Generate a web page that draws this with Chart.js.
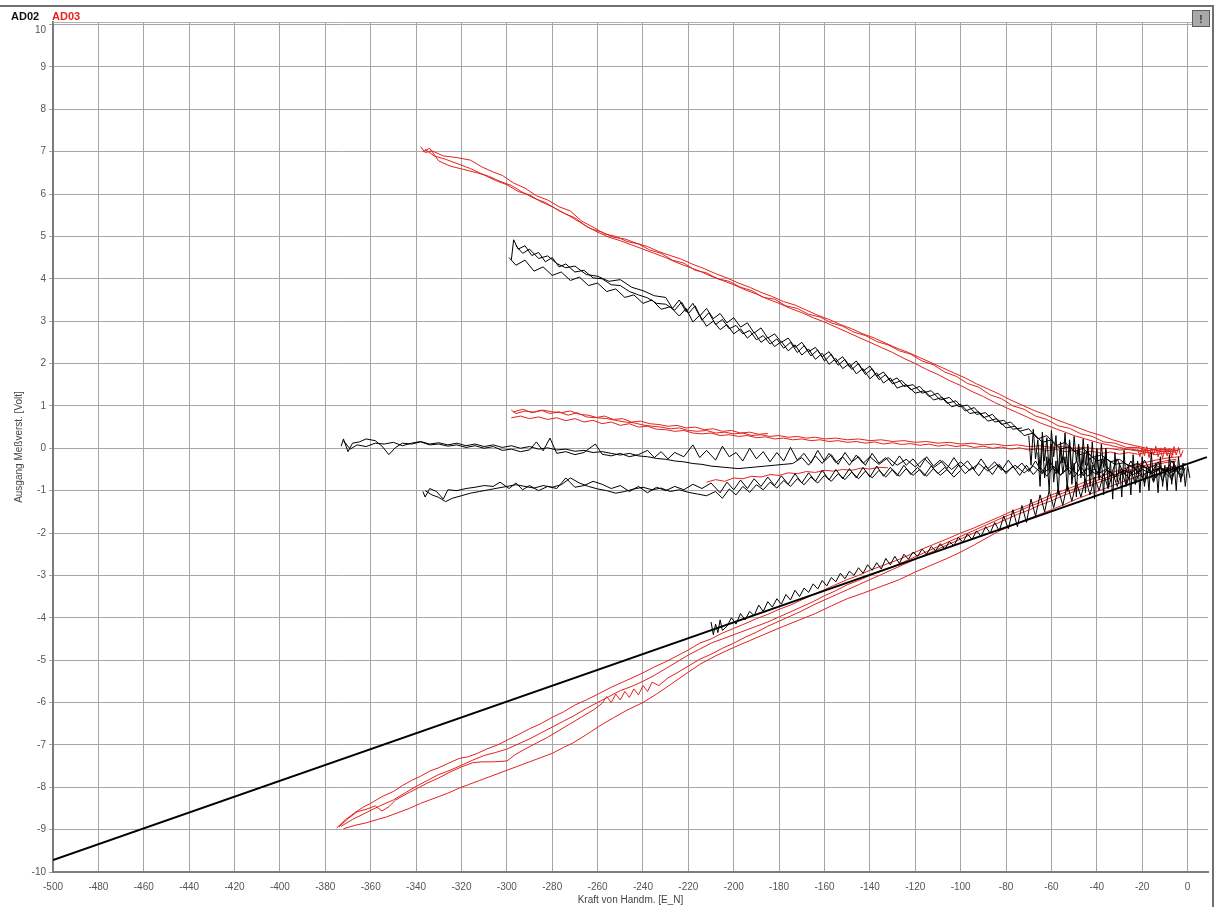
<!DOCTYPE html>
<html>
<head>
<meta charset="utf-8">
<script src="https://cdn.jsdelivr.net/npm/chart.js@4"></script>
<style>
  body { margin: 0; background: #fff; }
  #wrap { width: 1220px; height: 907px; }
</style>
</head>
<body>
<div id="wrap"><canvas id="myChart" width="1220" height="907"></canvas></div>
<script>
// tick positions
const xTickValues = [-500, -480, -460, -440, -420, -400, -380, -360, -340, -320, -300, -280, -260, -240, -220, -200, -180, -160, -140, -120, -100, -80, -60, -40, -20, 0];
const yTickValues = [-10, -9, -8, -7, -6, -5, -4, -3, -2, -1, 0, 1, 2, 3, 4, 5, 6, 7, 8, 9, 10];

// straight reference line (AD02 fit)
const fitLine = [[-500, -9.72], [8.5, -0.21]];

// AD02 (black) traces, [force, volt]
const blackUpA = [[-298,4.45],[-297,4.92],[-295,4.7],[-292,4.78],[-289,4.55],[-286,4.62],[-283,4.4],[-280,4.5],[-277,4.28],[-274,4.35],[-270,4.16],[-266,4.2],[-262,4.02],[-258,4.0],[-254,3.86],[-250,3.84],[-246,3.7],[-242,3.62],[-238,3.55],[-234,3.42],[-230,3.4],[-226,3.26],[-223,3.45],[-220,3.18],[-217,3.36],[-214,3.02],[-211,3.2],[-208,2.92],[-205,3.04],[-202,2.82],[-199,2.9],[-196,2.7],[-193,2.78],[-190,2.56],[-187,2.66],[-184,2.46],[-181,2.58],[-178,2.36],[-175,2.5],[-172,2.26],[-169,2.42],[-166,2.18],[-163,2.32],[-160,2.06],[-157,2.22],[-154,1.96],[-151,2.1],[-148,1.86],[-145,2.0],[-142,1.74],[-139,1.88],[-136,1.62],[-133,1.74],[-130,1.52],[-126,1.6],[-122,1.38],[-118,1.46],[-114,1.22],[-110,1.3],[-106,1.06],[-102,1.12],[-98,0.88],[-94,0.96],[-90,0.72],[-86,0.8],[-82,0.56],[-78,0.62],[-74,0.4],[-70,0.46],[-66,0.22],[-62,0.3],[-58,0.06],[-54,0.14],[-50,-0.08],[-46,0.0],[-42,-0.22],[-38,-0.16],[-34,-0.32],[-30,-0.26],[-26,-0.42],[-22,-0.36],[-18,-0.48],[-14,-0.4],[-10,-0.52],[-6,-0.44],[-2,-0.5]];
const blackUpB = [[-299,4.5],[-296,4.32],[-292,4.44],[-288,4.18],[-284,4.28],[-280,4.08],[-276,4.16],[-272,3.96],[-268,4.04],[-264,3.84],[-260,3.9],[-256,3.7],[-252,3.76],[-248,3.56],[-244,3.62],[-240,3.42],[-236,3.5],[-232,3.28],[-228,3.34],[-224,3.12],[-221,3.3],[-218,2.98],[-215,3.14],[-212,2.88],[-209,3.0],[-206,2.8],[-203,2.92],[-200,2.7],[-197,2.82],[-194,2.6],[-191,2.74],[-188,2.5],[-185,2.62],[-182,2.4],[-179,2.52],[-176,2.3],[-173,2.44],[-170,2.2],[-167,2.34],[-164,2.1],[-161,2.24],[-158,1.98],[-155,2.12],[-152,1.88],[-149,2.0],[-146,1.76],[-143,1.88],[-140,1.64],[-137,1.78],[-134,1.54],[-131,1.66],[-128,1.42],[-124,1.5],[-120,1.3],[-116,1.36],[-112,1.14],[-108,1.2],[-104,0.98],[-100,1.04],[-96,0.82],[-92,0.86],[-88,0.64],[-84,0.7],[-80,0.48],[-76,0.52],[-72,0.3],[-68,0.36],[-64,0.14],[-60,0.2],[-56,-0.02],[-52,0.04],[-48,-0.16],[-44,-0.1],[-40,-0.3],[-36,-0.24],[-32,-0.38],[-28,-0.34],[-24,-0.46],[-20,-0.4],[-16,-0.54],[-12,-0.46],[-8,-0.56],[-4,-0.48]];
const blackUpC = [[-296,4.78],[-293,4.6],[-290,4.7],[-286,4.48],[-282,4.54],[-278,4.36],[-274,4.26],[-270,4.3],[-265,4.1],[-260,4.06],[-255,3.94],[-250,3.98],[-245,3.8],[-240,3.72],[-235,3.6],[-230,3.56],[-227,3.3],[-224,3.5],[-221,3.22],[-218,3.42],[-215,3.12],[-212,3.3],[-209,3.06],[-206,3.18],[-203,2.96],[-200,3.08],[-197,2.86],[-194,2.96],[-191,2.72],[-188,2.84],[-185,2.6],[-182,2.7],[-179,2.5],[-176,2.6],[-173,2.38],[-170,2.5],[-167,2.28],[-164,2.38],[-161,2.16],[-158,2.28],[-155,2.04],[-152,2.16],[-149,1.92],[-146,2.06],[-143,1.82],[-140,1.94],[-137,1.7],[-134,1.8],[-131,1.58],[-128,1.66],[-125,1.46],[-121,1.5],[-117,1.3],[-113,1.36],[-109,1.14],[-105,1.2],[-101,0.98],[-97,1.02],[-93,0.8],[-89,0.84],[-85,0.62],[-81,0.66],[-77,0.45],[-73,0.48]];
const blackMidA = [[-373,0.05],[-372,0.22],[-370,-0.08],[-368,0.12],[-365,0.15],[-362,0.22],[-358,0.18],[-355,0.05],[-352,-0.15],[-349,0.02],[-346,0.12],[-342,0.1],[-338,0.15],[-334,0.08],[-330,0.1],[-326,0.05],[-322,0.08],[-318,0.02],[-314,0.06],[-310,0.0],[-306,0.04],[-302,-0.05],[-298,-0.02],[-294,-0.08],[-290,-0.04],[-287,0.15],[-284,-0.06],[-281,0.24],[-278,-0.12],[-274,-0.08],[-270,-0.15],[-266,-0.1],[-261,0.1],[-258,-0.14],[-254,-0.18],[-250,-0.12],[-246,-0.2],[-242,-0.15],[-238,-0.05],[-235,-0.22],[-232,-0.08],[-229,-0.25],[-226,-0.1],[-222,-0.2],[-218,0.08],[-215,-0.22],[-212,-0.05],[-208,-0.28],[-205,0.05],[-202,-0.2],[-199,-0.1],[-196,-0.3],[-193,0.0],[-190,-0.25],[-187,-0.08],[-184,-0.32],[-181,-0.1],[-178,-0.3],[-175,0.02],[-172,-0.28],[-169,-0.12],[-166,-0.35],[-163,-0.05],[-160,-0.3],[-157,-0.15],[-154,-0.38],[-151,-0.1],[-148,-0.32],[-145,-0.2],[-142,-0.4],[-139,-0.12],[-136,-0.35],[-133,-0.22],[-130,-0.42],[-127,-0.18],[-124,-0.4],[-121,-0.25],[-118,-0.45],[-115,-0.2],[-112,-0.42],[-109,-0.28],[-106,-0.48],[-103,-0.22],[-100,-0.45],[-97,-0.3],[-94,-0.5],[-91,-0.25],[-88,-0.48],[-85,-0.32],[-82,-0.52],[-79,-0.28],[-76,-0.5],[-73,-0.35],[-70,-0.55],[-67,-0.3],[-64,-0.58],[-61,-0.25],[-58,-0.6],[-55,-0.2],[-52,-0.62],[-49,-0.3],[-46,-0.65],[-43,-0.22],[-40,-0.6],[-37,-0.28],[-34,-0.66],[-31,-0.25],[-28,-0.62],[-25,-0.3],[-22,-0.6],[-19,-0.28],[-16,-0.58],[-13,-0.32],[-10,-0.62],[-7,-0.3],[-4,-0.55],[-1,-0.35]];
const blackMidB = [[-372,0.18],[-369,-0.02],[-366,0.08],[-362,0.04],[-358,0.12],[-354,0.1],[-350,0.14],[-346,0.06],[-342,0.12],[-338,0.16],[-334,0.1],[-330,0.13],[-326,0.08],[-322,0.12],[-318,0.06],[-314,0.1],[-310,0.04],[-306,0.08],[-302,0.02],[-298,0.06],[-294,0.0],[-290,0.04],[-286,-0.02],[-282,0.01],[-278,-0.04],[-274,-0.02],[-270,-0.07],[-266,-0.05],[-262,-0.1],[-258,-0.08],[-254,-0.12],[-250,-0.16],[-246,-0.12],[-242,-0.18],[-238,-0.2],[-234,-0.24],[-230,-0.26],[-226,-0.3],[-222,-0.32],[-218,-0.36],[-214,-0.38],[-210,-0.42],[-206,-0.44],[-202,-0.46],[-198,-0.48],[-194,-0.46],[-190,-0.44],[-186,-0.42],[-182,-0.4],[-178,-0.38],[-174,-0.36],[-170,-0.22],[-167,-0.4],[-164,-0.18],[-161,-0.36],[-158,-0.12],[-155,-0.34],[-152,-0.2],[-149,-0.4],[-146,-0.16],[-143,-0.36],[-140,-0.2],[-136,-0.38],[-132,-0.22],[-128,-0.4],[-124,-0.26],[-120,-0.44],[-116,-0.24],[-112,-0.46],[-108,-0.3],[-104,-0.5],[-100,-0.32],[-96,-0.52],[-92,-0.36],[-88,-0.54],[-84,-0.38],[-80,-0.56],[-76,-0.4],[-72,-0.58],[-68,-0.42],[-64,-0.6],[-60,-0.44],[-56,-0.62],[-52,-0.46],[-48,-0.64],[-44,-0.48],[-40,-0.62],[-36,-0.5],[-32,-0.64],[-28,-0.52],[-24,-0.62],[-20,-0.5],[-16,-0.6],[-12,-0.48],[-8,-0.58],[-4,-0.5]];
const blackLowMidA = [[-337,-1.02],[-336,-1.15],[-334,-0.95],[-331,-1.02],[-328,-1.2],[-326,-0.98],[-322,-1.0],[-318,-0.95],[-314,-0.92],[-310,-0.88],[-306,-0.9],[-303,-0.8],[-299,-0.95],[-296,-0.82],[-293,-0.98],[-290,-0.88],[-286,-1.0],[-282,-0.9],[-278,-0.95],[-274,-0.7],[-270,-0.92],[-266,-0.88],[-262,-0.78],[-258,-0.85],[-254,-0.95],[-250,-0.88],[-246,-1.02],[-242,-0.9],[-238,-1.05],[-234,-0.92],[-230,-1.0],[-226,-0.9],[-222,-0.98],[-218,-0.85],[-214,-0.95],[-210,-0.82],[-206,-1.05],[-203,-0.8],[-200,-0.98],[-197,-0.75],[-194,-0.95],[-191,-0.72],[-188,-0.9],[-185,-0.68],[-182,-0.88],[-179,-0.65],[-176,-0.85],[-173,-0.6],[-170,-0.82],[-167,-0.58],[-164,-0.78],[-161,-0.52],[-158,-0.75],[-155,-0.5],[-152,-0.72],[-149,-0.48],[-146,-0.7],[-143,-0.45],[-140,-0.68],[-137,-0.42],[-134,-0.66],[-131,-0.45],[-128,-0.65],[-125,-0.4],[-122,-0.62],[-119,-0.45],[-116,-0.65],[-113,-0.42],[-110,-0.6],[-107,-0.45],[-104,-0.62],[-101,-0.4],[-98,-0.6],[-95,-0.45],[-92,-0.65],[-89,-0.42],[-86,-0.62],[-83,-0.38],[-80,-0.6],[-77,-0.42],[-74,-0.64],[-71,-0.4],[-68,-0.62],[-65,-0.44],[-62,-0.66],[-59,-0.42],[-56,-0.64],[-53,-0.46],[-50,-0.68],[-47,-0.44],[-44,-0.66],[-41,-0.48],[-38,-0.7],[-35,-0.46],[-32,-0.68],[-29,-0.5],[-26,-0.7],[-23,-0.48],[-20,-0.68],[-17,-0.52],[-14,-0.7],[-11,-0.5],[-8,-0.68],[-5,-0.54],[-2,-0.66]];
const blackLowMidB = [[-336,-1.0],[-333,-1.1],[-330,-1.16],[-327,-1.26],[-324,-1.18],[-320,-1.12],[-316,-1.06],[-312,-1.02],[-308,-0.98],[-304,-0.94],[-300,-0.9],[-296,-0.86],[-292,-0.9],[-288,-0.94],[-284,-0.88],[-280,-0.92],[-276,-0.86],[-272,-0.7],[-268,-0.82],[-264,-0.9],[-260,-0.96],[-256,-1.0],[-252,-1.06],[-248,-1.02],[-244,-0.96],[-240,-0.92],[-236,-0.98],[-232,-0.94],[-228,-1.02],[-224,-0.98],[-220,-1.04],[-216,-1.08],[-212,-1.12],[-208,-1.02],[-205,-1.18],[-202,-0.96],[-199,-1.1],[-196,-0.9],[-193,-1.04],[-190,-0.86],[-187,-0.98],[-184,-0.8],[-181,-0.94],[-178,-0.76],[-175,-0.9],[-172,-0.72],[-169,-0.86],[-166,-0.68],[-163,-0.82],[-160,-0.64],[-157,-0.78],[-154,-0.6],[-151,-0.74],[-148,-0.56],[-145,-0.72],[-142,-0.54],[-139,-0.7],[-136,-0.52],[-133,-0.68],[-130,-0.5],[-127,-0.66],[-124,-0.48],[-121,-0.64],[-118,-0.5],[-115,-0.66],[-112,-0.48],[-109,-0.64],[-106,-0.5],[-103,-0.68],[-100,-0.52]];
const blackLow = [[-210,-4.1],[-209,-4.4],[-208,-4.15],[-207,-4.35],[-206,-4.05],[-205,-4.3],[-203,-4.2],[-201,-4.0],[-199,-4.15],[-197,-3.9],[-195,-4.05],[-193,-3.85],[-191,-3.95],[-189,-3.7],[-187,-3.85],[-185,-3.62],[-183,-3.75],[-181,-3.55],[-179,-3.68],[-177,-3.45],[-175,-3.58],[-173,-3.35],[-171,-3.5],[-169,-3.3],[-167,-3.4],[-165,-3.2],[-163,-3.32],[-161,-3.12],[-159,-3.25],[-157,-3.05],[-155,-3.15],[-153,-2.95],[-151,-3.08],[-149,-2.9],[-147,-3.0],[-145,-2.82],[-143,-2.95],[-141,-2.75],[-139,-2.88],[-137,-2.7],[-135,-2.85],[-133,-2.6],[-131,-2.75],[-129,-2.55],[-127,-2.72],[-125,-2.5],[-123,-2.62],[-121,-2.45],[-119,-2.55],[-117,-2.38],[-115,-2.5],[-113,-2.32],[-111,-2.42],[-109,-2.25],[-107,-2.38],[-105,-2.2],[-103,-2.3],[-101,-2.1],[-99,-2.22],[-97,-2.02],[-95,-2.15],[-93,-1.95],[-91,-2.08],[-89,-1.85],[-87,-2.0],[-85,-1.75],[-83,-1.95],[-81,-1.6],[-79,-1.9],[-77,-1.45],[-75,-1.85],[-73,-1.35],[-71,-1.75],[-69,-1.2],[-67,-1.6],[-65,-1.1],[-63,-1.5],[-61,-1.0],[-59,-1.4],[-57,-0.95],[-55,-1.35],[-53,-0.85],[-51,-1.25],[-49,-0.8],[-47,-1.15],[-45,-0.72],[-43,-1.1],[-41,-0.68],[-39,-1.0],[-37,-0.6],[-35,-0.95],[-33,-0.58],[-31,-0.9],[-29,-0.55],[-27,-0.88],[-25,-0.52],[-23,-0.85],[-21,-0.5],[-19,-0.82],[-17,-0.48],[-15,-0.8],[-13,-0.46],[-11,-0.78],[-9,-0.45],[-7,-0.76],[-5,-0.44],[-3,-0.72],[-1,-0.46]];
const blackNoise = [[-66,-0.1],[-65,-0.9],[-64,0.2],[-63,-0.7],[-62,-0.2],[-61,-1.0],[-60,0.1],[-59,-0.8],[-58,-0.3],[-57,-1.1],[-56,0.0],[-55,-0.6],[-54,-0.2],[-53,-1.0],[-52,0.15],[-51,-0.85],[-50,-0.35],[-49,-1.15],[-48,0.05],[-47,-0.7],[-46,-0.15],[-45,-1.05],[-44,0.1],[-43,-0.9],[-42,-0.4],[-41,-1.2],[-40,-0.05],[-39,-0.75],[-38,-0.25],[-37,-1.1],[-36,0.0],[-35,-0.95],[-34,-0.3],[-33,-1.2],[-32,-0.1],[-31,-0.8],[-30,-0.35],[-29,-1.15],[-28,-0.05],[-27,-0.9],[-26,-0.4],[-25,-1.1],[-24,-0.15],[-23,-0.85],[-22,-0.3],[-21,-1.05],[-20,-0.2],[-19,-0.9],[-18,-0.45],[-17,-1.0],[-16,-0.1],[-15,-0.8],[-14,-0.35],[-13,-1.05],[-12,-0.2],[-11,-0.9],[-10,-0.4],[-9,-1.0],[-8,-0.15],[-7,-0.85],[-6,-0.3],[-5,-1.0],[-4,-0.2],[-3,-0.8],[-2,-0.35],[-1,-0.9],[0,-0.4],[1,-0.7]];
const blackNoise2 = [[-70,0.3],[-69,-0.4],[-68,0.45],[-67,-0.25],[-66,0.2],[-65,-0.5],[-64,0.38],[-63,-0.3],[-62,0.25],[-61,-0.55],[-60,0.42],[-59,-0.2],[-58,0.3],[-57,-0.6],[-56,0.15],[-55,-0.35],[-54,0.36],[-53,-0.45],[-52,0.2],[-51,-0.6],[-50,0.28],[-49,-0.3],[-48,0.1],[-47,-0.55],[-46,0.22],[-45,-0.4],[-44,0.05],[-43,-0.65],[-42,0.15],[-41,-0.5],[-40,0.0],[-39,-0.7],[-38,0.1],[-37,-0.45],[-36,-0.05],[-35,-0.75]];

// AD03 (red) traces
const redUpA = [[-338,7.12],[-336,6.98],[-333,7.02],[-328,6.9],[-322,6.86],[-316,6.8],[-311,6.64],[-306,6.52],[-302,6.44],[-297,6.26],[-292,6.14],[-287,5.96],[-282,5.86],[-277,5.7],[-272,5.6],[-267,5.36],[-262,5.22],[-257,5.06],[-252,5.0],[-247,4.88],[-242,4.82],[-237,4.68],[-232,4.6],[-227,4.44],[-222,4.37],[-217,4.2],[-212,4.14],[-207,4.0],[-202,3.94],[-197,3.8],[-192,3.72],[-187,3.56],[-182,3.52],[-177,3.36],[-172,3.3],[-167,3.16],[-162,3.1],[-157,2.96],[-152,2.88],[-147,2.74],[-142,2.66],[-137,2.52],[-132,2.44],[-127,2.3],[-122,2.22],[-117,2.06],[-112,1.97],[-107,1.8],[-102,1.7],[-97,1.53],[-92,1.44],[-87,1.26],[-82,1.17],[-77,1.0],[-72,0.92],[-67,0.76],[-62,0.68],[-57,0.53],[-52,0.47],[-47,0.34],[-42,0.28],[-37,0.15],[-32,0.12],[-27,0.02],[-22,0.02],[-17,-0.06],[-12,0.0],[-7,-0.08],[-3,-0.02]];
const redUpB = [[-336,7.05],[-332,6.9],[-327,6.82],[-321,6.7],[-316,6.6],[-310,6.45],[-305,6.32],[-300,6.22],[-295,6.06],[-290,5.98],[-285,5.82],[-280,5.7],[-275,5.55],[-270,5.44],[-265,5.24],[-260,5.1],[-255,4.98],[-250,4.9],[-245,4.8],[-240,4.7],[-235,4.6],[-230,4.5],[-225,4.38],[-220,4.28],[-215,4.18],[-210,4.06],[-205,3.96],[-200,3.86],[-195,3.74],[-190,3.64],[-185,3.52],[-180,3.42],[-175,3.3],[-170,3.2],[-165,3.08],[-160,2.98],[-155,2.86],[-150,2.74],[-145,2.62],[-140,2.5],[-135,2.38],[-130,2.26],[-125,2.12],[-120,2.0],[-115,1.86],[-110,1.74],[-105,1.6],[-100,1.48],[-95,1.34],[-90,1.22],[-85,1.08],[-80,0.96],[-75,0.84],[-70,0.72],[-65,0.6],[-60,0.5],[-55,0.4],[-50,0.3],[-45,0.22],[-40,0.14],[-35,0.08],[-30,0.02],[-25,-0.04],[-20,-0.08],[-15,-0.1],[-10,-0.06],[-5,-0.1]];
const redUpC = [[-337,7.0],[-334,7.08],[-330,6.78],[-325,6.66],[-319,6.58],[-313,6.5],[-308,6.42],[-303,6.3],[-298,6.2],[-293,6.04],[-288,5.9],[-283,5.8],[-278,5.64],[-273,5.5],[-268,5.34],[-263,5.18],[-258,5.1],[-253,4.98],[-248,4.94],[-243,4.84],[-238,4.76],[-233,4.64],[-228,4.55],[-223,4.46],[-218,4.34],[-213,4.24],[-208,4.12],[-203,4.02],[-198,3.9],[-193,3.8],[-188,3.68],[-183,3.58],[-178,3.46],[-173,3.38],[-168,3.26],[-163,3.14],[-158,3.04],[-153,2.92],[-148,2.82],[-143,2.7],[-138,2.6],[-133,2.48],[-128,2.36],[-123,2.26],[-118,2.14],[-113,2.02],[-108,1.9],[-103,1.78],[-98,1.66],[-93,1.52],[-88,1.4],[-83,1.28],[-78,1.14],[-73,1.02],[-68,0.9],[-63,0.8],[-58,0.68],[-53,0.58],[-48,0.48],[-43,0.38],[-38,0.3],[-33,0.2],[-28,0.12],[-23,0.06],[-18,0.0],[-13,-0.04],[-8,-0.02],[-4,-0.06]];
const redMidA = [[-298,0.9],[-296,0.82],[-292,0.88],[-288,0.85],[-284,0.9],[-280,0.86],[-276,0.84],[-272,0.88],[-268,0.8],[-264,0.78],[-260,0.72],[-256,0.7],[-252,0.66],[-248,0.62],[-244,0.6],[-240,0.55],[-236,0.52],[-232,0.5],[-228,0.46],[-224,0.48],[-220,0.42],[-216,0.4],[-212,0.42],[-208,0.36],[-204,0.38],[-200,0.34],[-196,0.36],[-192,0.3],[-188,0.32],[-184,0.28],[-180,0.3],[-176,0.26],[-172,0.28],[-168,0.24],[-164,0.26],[-160,0.22],[-155,0.24],[-150,0.2],[-145,0.22],[-140,0.18],[-135,0.2],[-130,0.16],[-125,0.18],[-120,0.14],[-115,0.16],[-110,0.12],[-105,0.14],[-100,0.1],[-95,0.12],[-90,0.08],[-85,0.1],[-80,0.06],[-75,0.08],[-70,0.04],[-65,0.06],[-60,0.02],[-55,0.04],[-50,0.0],[-45,0.02],[-40,-0.02],[-35,0.0],[-30,-0.04],[-25,-0.02],[-20,-0.06],[-15,-0.04],[-10,-0.08],[-5,-0.05]];
const redMidB = [[-298,0.72],[-294,0.76],[-290,0.7],[-286,0.74],[-282,0.68],[-278,0.72],[-274,0.65],[-270,0.7],[-266,0.62],[-262,0.66],[-258,0.58],[-254,0.62],[-250,0.54],[-246,0.58],[-242,0.5],[-238,0.52],[-234,0.45],[-230,0.44],[-226,0.4],[-222,0.42],[-218,0.36],[-214,0.34],[-210,0.36],[-206,0.3],[-202,0.32],[-198,0.28],[-194,0.3],[-190,0.25],[-186,0.27],[-182,0.22],[-178,0.24],[-174,0.2],[-170,0.22],[-166,0.18],[-162,0.2],[-158,0.16],[-154,0.18],[-150,0.14],[-146,0.16],[-142,0.12],[-138,0.15],[-134,0.1],[-130,0.13],[-126,0.09],[-122,0.11],[-118,0.07],[-114,0.1],[-110,0.05],[-106,0.08],[-102,0.04],[-98,0.07],[-94,0.02],[-90,0.05],[-86,0.0],[-82,0.03],[-78,-0.02],[-74,0.01],[-70,-0.04],[-66,-0.01],[-62,-0.06],[-58,-0.03],[-54,-0.08],[-50,-0.05],[-46,-0.1],[-42,-0.07],[-38,-0.12],[-34,-0.09],[-30,-0.14],[-26,-0.1],[-22,-0.14],[-18,-0.1],[-14,-0.15],[-10,-0.11],[-6,-0.14]];
const redMidC = [[-297,0.86],[-293,0.92],[-289,0.84],[-285,0.9],[-281,0.82],[-277,0.86],[-273,0.78],[-269,0.84],[-265,0.74],[-261,0.72],[-257,0.76],[-253,0.68],[-249,0.7],[-245,0.62],[-241,0.64],[-237,0.58],[-233,0.56],[-229,0.52],[-225,0.54],[-221,0.48],[-217,0.5],[-213,0.44],[-209,0.46],[-205,0.4],[-201,0.42],[-197,0.36],[-193,0.38],[-189,0.33],[-185,0.35]];
const redLowMid = [[-212,-0.8],[-208,-0.74],[-204,-0.78],[-200,-0.7],[-196,-0.72],[-192,-0.66],[-188,-0.68],[-184,-0.62],[-180,-0.64],[-176,-0.58],[-172,-0.6],[-168,-0.55],[-164,-0.57],[-160,-0.52],[-156,-0.54],[-152,-0.5],[-148,-0.52],[-144,-0.47],[-140,-0.49],[-136,-0.45],[-132,-0.46]];
const redLowA = [[-375,-8.96],[-371,-8.76],[-367,-8.6],[-363,-8.46],[-360,-8.38],[-355,-8.22],[-350,-8.1],[-346,-7.96],[-342,-7.84],[-338,-7.74],[-334,-7.62],[-330,-7.54],[-326,-7.44],[-321,-7.32],[-317,-7.28],[-313,-7.2],[-309,-7.1],[-304,-7.0],[-300,-6.89],[-295,-6.76],[-290,-6.62],[-285,-6.5],[-280,-6.35],[-275,-6.22],[-270,-6.06],[-265,-5.94],[-259,-5.78],[-254,-5.64],[-249,-5.52],[-244,-5.4],[-240,-5.3],[-235,-5.16],[-230,-5.04],[-225,-4.9],[-220,-4.76],[-215,-4.6],[-210,-4.5],[-205,-4.36],[-200,-4.25],[-195,-4.14],[-190,-4.02],[-185,-3.92],[-180,-3.8],[-175,-3.7],[-171,-3.6],[-166,-3.48],[-161,-3.36],[-156,-3.24],[-150,-3.1],[-145,-3.0],[-140,-2.88],[-135,-2.78],[-130,-2.68],[-127,-2.62],[-122,-2.5],[-117,-2.38],[-112,-2.27],[-106,-2.14],[-100,-2.0],[-95,-1.9],[-89,-1.76],[-83,-1.62],[-78,-1.5],[-72,-1.38],[-66,-1.24],[-60,-1.1],[-55,-1.0],[-49,-0.88],[-44,-0.76],[-38,-0.65],[-32,-0.55],[-26,-0.45],[-20,-0.35],[-14,-0.28],[-8,-0.22],[-3,-0.2]];
const redLowB = [[-372,-8.98],[-367,-8.9],[-362,-8.84],[-357,-8.76],[-353,-8.7],[-348,-8.6],[-343,-8.5],[-338,-8.38],[-334,-8.3],[-330,-8.22],[-326,-8.14],[-321,-8.02],[-317,-7.94],[-312,-7.84],[-308,-7.76],[-304,-7.68],[-300,-7.6],[-295,-7.5],[-290,-7.4],[-285,-7.3],[-280,-7.2],[-275,-7.06],[-271,-6.96],[-265,-6.76],[-259,-6.55],[-253,-6.36],[-247,-6.18],[-240,-6.0],[-234,-5.8],[-228,-5.58],[-221,-5.32],[-215,-5.1],[-208,-4.9],[-200,-4.7],[-193,-4.54],[-186,-4.38],[-178,-4.2],[-171,-4.05],[-164,-3.9],[-157,-3.72],[-150,-3.55],[-143,-3.42],[-135,-3.26],[-127,-3.1],[-120,-2.92],[-113,-2.76],[-106,-2.6],[-100,-2.45],[-94,-2.28],[-88,-2.1],[-83,-1.95],[-77,-1.82],[-71,-1.68],[-66,-1.58],[-60,-1.45],[-54,-1.32],[-49,-1.2],[-43,-1.08],[-38,-0.98],[-32,-0.86],[-26,-0.74],[-20,-0.62],[-14,-0.52],[-9,-0.46],[-5,-0.4]];
const redLowC = [[-374,-8.94],[-370,-8.74],[-366,-8.58],[-362,-8.52],[-358,-8.44],[-355,-8.56],[-352,-8.46],[-349,-8.3],[-345,-8.18],[-340,-8.04],[-335,-7.9],[-330,-7.78],[-325,-7.64],[-320,-7.52],[-315,-7.42],[-311,-7.4],[-306,-7.4],[-300,-7.38],[-296,-7.22],[-292,-7.1],[-287,-6.96],[-282,-6.82],[-277,-6.66],[-272,-6.5],[-267,-6.34],[-262,-6.18],[-258,-6.02],[-256,-5.86],[-254,-6.0],[-252,-5.8],[-250,-5.94],[-248,-5.74],[-246,-5.88],[-244,-5.68],[-242,-5.82],[-240,-5.6],[-238,-5.74],[-236,-5.52],[-233,-5.6],[-229,-5.42],[-225,-5.3],[-220,-5.14],[-215,-4.98],[-210,-4.86],[-205,-4.72],[-200,-4.6],[-195,-4.46],[-190,-4.34],[-185,-4.2],[-180,-4.08],[-175,-3.96],[-170,-3.84],[-165,-3.7],[-160,-3.58],[-155,-3.46],[-150,-3.34],[-145,-3.22],[-140,-3.1],[-135,-2.98],[-130,-2.86],[-125,-2.74],[-120,-2.62],[-115,-2.5],[-110,-2.38],[-105,-2.26],[-100,-2.14],[-95,-2.02],[-90,-1.9],[-85,-1.8],[-80,-1.68],[-75,-1.56],[-70,-1.46],[-65,-1.34],[-60,-1.24],[-55,-1.12],[-50,-1.02],[-45,-0.92],[-40,-0.82],[-35,-0.72],[-30,-0.64],[-25,-0.54],[-20,-0.46],[-15,-0.4],[-10,-0.34],[-5,-0.3]];
const redLowD = [[-373,-8.92],[-368,-8.76],[-362,-8.6],[-356,-8.44],[-350,-8.3],[-345,-8.14],[-340,-7.98],[-335,-7.84],[-330,-7.7],[-325,-7.6],[-320,-7.48],[-315,-7.36],[-310,-7.25],[-305,-7.18],[-300,-7.1],[-295,-6.98],[-290,-6.86],[-285,-6.72],[-280,-6.58],[-275,-6.44],[-270,-6.3],[-265,-6.14],[-260,-6.0],[-255,-5.86],[-250,-5.72],[-245,-5.62],[-240,-5.5],[-235,-5.36],[-230,-5.2],[-225,-5.04],[-220,-4.88],[-215,-4.74],[-210,-4.6],[-205,-4.5],[-200,-4.4],[-195,-4.3],[-190,-4.2],[-185,-4.1],[-180,-3.98],[-175,-3.86],[-170,-3.74],[-165,-3.62],[-160,-3.48],[-155,-3.36],[-150,-3.22],[-145,-3.12],[-140,-3.0],[-135,-2.9],[-130,-2.8],[-125,-2.68],[-120,-2.56],[-115,-2.44],[-110,-2.32],[-105,-2.2],[-100,-2.08],[-95,-1.96],[-90,-1.84],[-85,-1.72],[-80,-1.6],[-75,-1.5],[-70,-1.38],[-65,-1.28],[-60,-1.16],[-55,-1.06],[-50,-0.96],[-45,-0.86],[-40,-0.76],[-35,-0.68],[-30,-0.58],[-25,-0.5],[-20,-0.42],[-15,-0.36],[-10,-0.3],[-5,-0.26]];
const redNoise = [[-22,-0.02],[-21,-0.2],[-20,0.02],[-19,-0.18],[-18,0.04],[-17,-0.22],[-16,0.0],[-15,-0.16],[-14,0.05],[-13,-0.2],[-12,-0.02],[-11,-0.24],[-10,0.03],[-9,-0.18],[-8,0.0],[-7,-0.22],[-6,0.04],[-5,-0.16],[-4,0.02],[-3,-0.2],[-2,-0.05]];

const RED = "#e3221d";
const BLACK = "#000000";
const GRID = "#a6a6a6";

const pts = (arr) => arr.map(([x, y]) => ({ x, y }));
const trace = (arr, color, width = 1) => ({
  data: pts(arr),
  borderColor: color,
  borderWidth: width,
  showLine: true,
  pointRadius: 0,
  pointHitRadius: 0,
  fill: false,
  tension: 0,
});

// first dataset is drawn on top
const datasets = [
  trace(fitLine, BLACK, 2),
  trace(blackNoise, BLACK),
  trace(blackNoise2, BLACK),
  trace(blackLow, BLACK),
  trace(blackUpA, BLACK),
  trace(blackUpB, BLACK),
  trace(blackUpC, BLACK),
  trace(blackMidA, BLACK),
  trace(blackMidB, BLACK),
  trace(blackLowMidA, BLACK),
  trace(blackLowMidB, BLACK),
  trace(redNoise, RED),
  trace(redUpA, RED),
  trace(redUpB, RED),
  trace(redUpC, RED),
  trace(redMidA, RED),
  trace(redMidB, RED),
  trace(redMidC, RED),
  trace(redLowMid, RED),
  trace(redLowA, RED),
  trace(redLowB, RED),
  trace(redLowC, RED),
  trace(redLowD, RED),
];

const frame = {
  id: "frame",
  beforeDraw(chart) {
    const ctx = chart.ctx;
    ctx.save();
    ctx.fillStyle = "#ffffff";
    ctx.fillRect(0, 0, chart.width, chart.height);
    ctx.restore();
  },
  afterDraw(chart) {
    const { ctx, chartArea } = chart;
    ctx.save();
    // window border
    ctx.strokeStyle = "#707070";
    ctx.lineWidth = 2;
    ctx.beginPath();
    ctx.moveTo(0, 6);
    ctx.lineTo(1213, 6);
    ctx.lineTo(1213, chart.height);
    ctx.stroke();
    // top edge of plot
    ctx.strokeStyle = "#b4b4b4";
    ctx.lineWidth = 1;
    ctx.beginPath();
    ctx.moveTo(chartArea.left, chartArea.top + 0.5);
    ctx.lineTo(chartArea.right, chartArea.top + 0.5);
    ctx.stroke();
    // channel names
    ctx.font = 'bold 11px "Liberation Sans", Arial, sans-serif';
    ctx.textBaseline = "alphabetic";
    ctx.fillStyle = "#111111";
    ctx.fillText("AD02", 11, 20);
    ctx.fillStyle = RED;
    ctx.fillText("AD03", 52, 20);
    // small button top right
    ctx.fillStyle = "#a9a9a9";
    ctx.fillRect(1192, 10, 18, 17);
    ctx.strokeStyle = "#5c5c5c";
    ctx.strokeRect(1192.5, 10.5, 17, 16);
    ctx.fillStyle = "#333333";
    ctx.font = 'bold 10px "Liberation Sans", Arial, sans-serif';
    ctx.textAlign = "center";
    ctx.fillText("!", 1201, 23);
    ctx.restore();
  },
};

new Chart(document.getElementById("myChart"), {
  type: "scatter",
  data: { datasets },
  plugins: [frame],
  options: {
    responsive: false,
    animation: false,
    devicePixelRatio: 1,
    layout: { padding: { top: 22, right: 12, left: 0, bottom: 0 } },
    plugins: { legend: { display: false }, tooltip: { enabled: false } },
    scales: {
      x: {
        type: "linear",
        min: -500,
        max: 9,
        afterFit: (scale) => { scale.height = 35; },
        afterBuildTicks: (scale) => { scale.ticks = xTickValues.map((v) => ({ value: v })); },
        ticks: {
          autoSkip: false,
          maxRotation: 0,
          padding: 9,
          color: "#555555",
          font: { family: '"Liberation Sans", Arial, sans-serif', size: 10 },
        },
        grid: { color: GRID, lineWidth: 1, drawTicks: false },
        border: { color: "#7c7c7c", width: 2 },
        title: {
          display: true,
          text: "Kraft von Handm. [E_N]",
          color: "#444444",
          font: { family: '"Liberation Sans", Arial, sans-serif', size: 10 },
          padding: { top: 0, bottom: 1 },
        },
      },
      y: {
        type: "linear",
        min: -10,
        max: 10.06,
        afterFit: (scale) => { scale.width = 53; },
        afterBuildTicks: (scale) => { scale.ticks = yTickValues.map((v) => ({ value: v })); },
        ticks: {
          autoSkip: false,
          padding: 3,
          color: "#555555",
          font: { family: '"Liberation Sans", Arial, sans-serif', size: 10 },
          // top label sits a little below its line, as in the original
          callback: (v) => (v === 10 ? ["", "10"] : v),
        },
        grid: { color: GRID, lineWidth: 1, tickLength: 4 },
        border: { color: "#7c7c7c", width: 2 },
        title: {
          display: true,
          text: "Ausgang Meßverst. [Volt]",
          color: "#444444",
          font: { family: '"Liberation Sans", Arial, sans-serif', size: 10 },
          padding: { top: 13, bottom: 0 },
        },
      },
    },
  },
});
</script>
</body>
</html>
